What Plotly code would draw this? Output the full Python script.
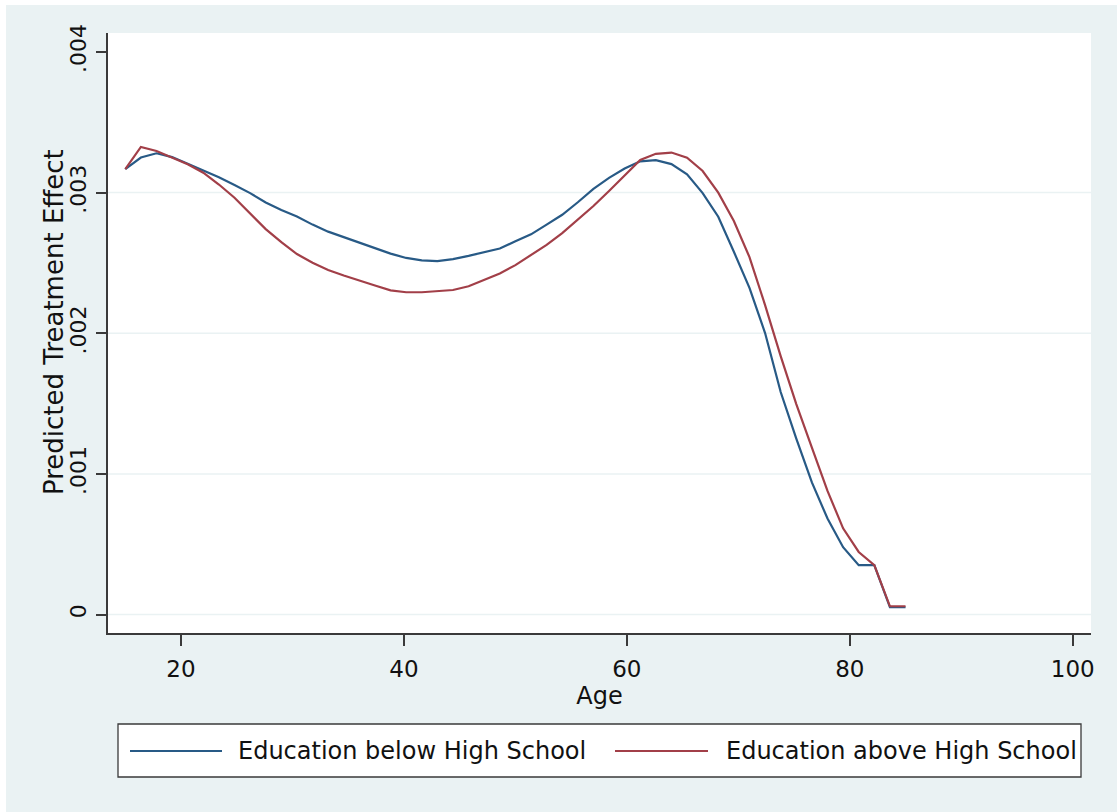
import plotly.graph_objects as go

# Age grid of the smoothed predictions
ages = [15, 16.4, 17.8, 19.2, 20.6, 22, 23.4, 24.8, 26.2, 27.6,
        29, 30.4, 31.8, 33.2, 34.6, 36, 37.4, 38.8, 40.2, 41.6,
        43, 44.4, 45.8, 47.2, 48.6, 50, 51.4, 52.8, 54.2, 55.6,
        57, 58.4, 59.8, 61.2, 62.6, 64, 65.4, 66.8, 68.2, 69.6,
        71, 72.4, 73.8, 75.2, 76.6, 78, 79.4, 80.8, 82.2, 83.6, 85]

effect_below_hs = [
    0.003167, 0.003249, 0.003279, 0.003252, 0.003205, 0.003158, 0.003108, 0.003053, 0.002996, 0.002929,
    0.002876, 0.002829, 0.002772, 0.002722, 0.002682, 0.002644, 0.002605, 0.002566, 0.002535, 0.002518,
    0.002513, 0.002527, 0.002550, 0.002575, 0.002602, 0.002653, 0.002703, 0.002772, 0.002842, 0.002931,
    0.003026, 0.003104, 0.003171, 0.003222, 0.003230, 0.003202, 0.003130, 0.002996, 0.002828, 0.002579,
    0.002322, 0.002001, 0.001582, 0.001250, 0.000939, 0.000683, 0.000479, 0.000351, 0.000351, 0.000052,
    0.000052]

effect_above_hs = [
    0.003167, 0.003324, 0.003295, 0.003250, 0.003201, 0.003141, 0.003057, 0.002963, 0.002851, 0.002740,
    0.002647, 0.002563, 0.002501, 0.002449, 0.002410, 0.002372, 0.002339, 0.002305, 0.002291, 0.002291,
    0.002297, 0.002307, 0.002334, 0.002377, 0.002425, 0.002484, 0.002553, 0.002628, 0.002711, 0.002804,
    0.002904, 0.003011, 0.003122, 0.003232, 0.003275, 0.003284, 0.003247, 0.003153, 0.002999, 0.002797,
    0.002541, 0.002200, 0.001837, 0.001496, 0.001186, 0.000879, 0.000613, 0.000445, 0.000351, 0.000059,
    0.000059]

series_names = ["Education below High School", "Education above High School"]
series_colors = ["#285a86", "#a23f48"]

x_ticks = [20, 40, 60, 80, 100]
y_ticks = [0, 0.001, 0.002, 0.003, 0.004]
y_tick_text = ["0", ".001", ".002", ".003", ".004"]
y_title = "Predicted Treatment Effect"
x_title = "Age"

W, H = 1117, 812
ML, MR, MT, MB = 108, 26, 33, 179
PW, PH = W - ML - MR, H - MT - MB
BG = "#eaf2f3"
AXIS = "#3a3a3a"
FONT = "DejaVu Sans"


def px_x(px):
    return (px - ML) / PW


def px_y(py):
    return (H - MB - py) / PH


fig = go.Figure()
for name, vals, col in zip(series_names, [effect_below_hs, effect_above_hs], series_colors):
    fig.add_trace(go.Scatter(x=ages, y=vals, mode="lines", name=name,
                             line=dict(color=col, width=2.2), showlegend=False))

shapes = []
# horizontal grid lines
for v in y_ticks[:-1]:
    shapes.append(dict(type="line", xref="paper", yref="y", x0=0, x1=1, y0=v, y1=v,
                       line=dict(color=BG, width=1.5), layer="below"))
# thin white strips along the top and left of the page
shapes.append(dict(type="rect", xref="paper", yref="paper", x0=px_x(0), x1=px_x(W),
                   y0=px_y(5), y1=px_y(0), fillcolor="white", line=dict(width=0), layer="below"))
shapes.append(dict(type="rect", xref="paper", yref="paper", x0=px_x(0), x1=px_x(6),
                   y0=px_y(H), y1=px_y(0), fillcolor="white", line=dict(width=0), layer="below"))

# legend box
shapes.append(dict(type="rect", xref="paper", yref="paper", x0=px_x(118), x1=px_x(1081),
                   y0=px_y(777), y1=px_y(724), fillcolor="white",
                   line=dict(color=AXIS, width=1.3)))
legend_y = px_y(751)
legend_items = [(130, 222, 236), (615, 708, 724)]
annotations = []
for (lx0, lx1, tx), name, col in zip(legend_items, series_names, series_colors):
    shapes.append(dict(type="line", xref="paper", yref="paper", x0=px_x(lx0), x1=px_x(lx1),
                       y0=legend_y, y1=legend_y, line=dict(color=col, width=2.2)))
    annotations.append(dict(xref="paper", yref="paper", x=px_x(tx), y=legend_y, text=name,
                            showarrow=False, xanchor="left", yanchor="middle",
                            font=dict(family=FONT, size=24, color="#111")))

# y-axis title, placed close to the tick labels
annotations.append(dict(xref="paper", yref="paper", x=px_x(54), y=px_y(322), text=y_title,
                        textangle=-90, showarrow=False, xanchor="center", yanchor="middle",
                        font=dict(family=FONT, size=26, color="#111")))

fig.update_layout(
    width=W, height=H,
    margin=dict(l=ML, r=MR, t=MT, b=MB),
    paper_bgcolor=BG, plot_bgcolor="white",
    font=dict(family=FONT, color="#111"),
    shapes=shapes, annotations=annotations,
    xaxis=dict(range=[13.45, 101.64], tickvals=x_ticks, showgrid=False, zeroline=False,
               showline=True, linecolor=AXIS, linewidth=1.5, ticks="outside", ticklen=11,
               tickcolor=AXIS, tickwidth=1.5, tickfont=dict(size=23), ticklabelstandoff=4,
               title=dict(text=x_title, font=dict(size=24), standoff=2)),
    yaxis=dict(range=[-0.000131, 0.004134], tickvals=y_ticks, ticktext=y_tick_text,
               showgrid=False, zeroline=False, showline=True, linecolor=AXIS, linewidth=1.5,
               ticks="outside", ticklen=10, tickcolor=AXIS, tickwidth=1.5, tickangle=-90,
               tickfont=dict(size=22), ticklabelstandoff=1),
)

fig.write_html("out.html")
